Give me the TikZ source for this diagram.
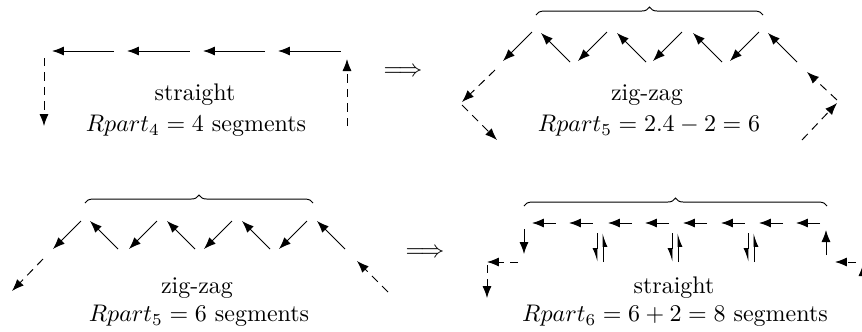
\documentclass[tikz,border=0pt]{standalone}
\usetikzlibrary{arrows.meta,decorations.pathreplacing}
\begin{document}
\begin{tikzpicture}[x=0.4167pt,y=-0.4167pt,
  arr/.style={line width=0.4pt,-{Latex[length=5pt,width=3.8pt]}},
  harp/.style={line width=0.4pt,-{Latex[length=5pt,width=3.8pt,right]}},
  dsh/.style={dash pattern=on 3.5pt off 2.5pt},
  brc/.style={line width=0.4pt,decorate,decoration={brace,amplitude=3.3pt}},
  lbl/.style={inner sep=0pt}]
\useasboundingbox (0,0) rectangle (862,332);

% ---- panel A: straight, 4 segments
\foreach \s/\e in {114/52,190/127,265/203,341/278}
  \draw[arr] (\s,51) -- (\e,51);
\draw[arr,dsh] (44,58) -- (44,126);
\draw[arr,dsh] (347,126) -- (347,59);
\node[lbl] (a1) at (195,95) {straight};
\node[lbl] (a2) at (196,126) {$Rpart_4=4$ segments};
\node[lbl] (imp1) at (403,72) {$\Longrightarrow$};

% ---- panel B: zig-zag
\draw[brc] (536,15) -- (763,15);
\foreach \x in {532,607,682,759}
  \draw[arr] (\x,32) -- ++(-29,29);
\foreach \x in {570,646,722,797}
  \draw[arr] (\x,62) -- ++(-29,-29);
\draw[arr,dsh] (495,70) -- (462,102);
\draw[arr,dsh] (462,105) -- (497,140);
\draw[arr,dsh] (802,140) -- (837,103);
\draw[arr,dsh] (837,100) -- (807,72);
\node[lbl] (b1) at (647,95) {zig-zag};
\node[lbl] (b2) at (649,126) {$Rpart_5=2.4-2=6$};

% ---- panel C: zig-zag, 6 segments
\draw[brc] (85,203) -- (313,203);
\foreach \x in {81,157,232,307}
  \draw[arr] (\x,221) -- ++(-28,28);
\foreach \x in {118,195,270,345}
  \draw[arr] (\x,249) -- ++(-28,-28);
\draw[arr,dsh] (43,259) -- (12,291);
\draw[arr,dsh] (388,292) -- (357,261);
\node[lbl] (c1) at (197,288) {zig-zag};
\node[lbl] (c2) at (199,316) {$Rpart_5=6$ segments};
\node[lbl] (imp2) at (425,253) {$\Longrightarrow$};

% ---- panel D: straight, 8 segments
\draw[brc] (524,206) -- (827,206);
\foreach \x in {556,593,632,669,707,745,783,820}
  \draw[arr] (\x,223) -- ++(-24,0);
\draw[arr] (524,229) -- (524,254);
\draw[arr] (826,255) -- (826,230);
\foreach \x in {597,672,748}{
  \draw[harp] (\x,233) -- (\x,262);
  \draw[harp] (\x+6,262) -- (\x+6,233);
}
\draw[arr,dsh] (518,262) -- (487,262);
\draw[arr,dsh] (487,265) -- (487,298);
\draw[arr,dsh] (856,262) -- (835,262);
\draw[arr,dsh] (863,298) -- (863,264);
\node[lbl] (d1) at (674,288) {straight};
\node[lbl] (d2) at (675,316) {$Rpart_6=6+2=8$ segments};
\end{tikzpicture}
\end{document}
